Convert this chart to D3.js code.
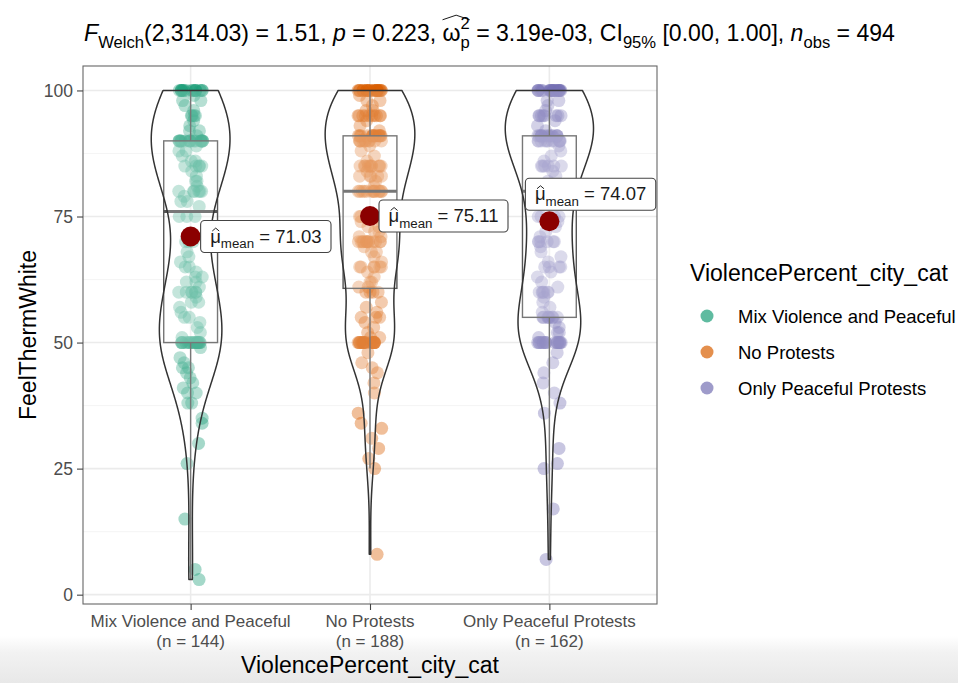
<!DOCTYPE html>
<html>
<head>
<meta charset="utf-8">
<script src="https://cdn.jsdelivr.net/npm/d3@7"></script>
<style>
  body { margin: 0; background: #fff; }
  text { font-family: "Liberation Sans", Arial, Helvetica, sans-serif; white-space: pre; }
</style>
</head>
<body>
<svg id="chart" width="958" height="683"></svg>
<script>
// ---- data -------------------------------------------------------------
const categories = ["Mix Violence and Peaceful", "No Protests", "Only Peaceful Protests"];
const groupSizes = [144, 188, 162];
const meanValues = [71.03, 75.11, 74.07];
const yTicks = [0, 25, 50, 75, 100];

// FeelThermWhite responses per group, as [value, count]
const mixViolence = [
  [3,1],[5,1],[15,1],[26,1],[30,1],[34,1],[35,1],[38,2],[40,2],[41,1],[42,1],[43,1],
  [44,1],[45,2],[46,1],[47,1],[49,1],[50,18],[51,1],[52,1],[53,1],[54,1],[55,2],[56,1],
  [57,1],[58,2],[59,1],[60,6],[61,1],[62,2],[63,2],[64,1],[65,2],[66,1],[67,1],[68,1],
  [70,3],[75,3],[77,1],[78,2],[79,1],[80,6],[81,1],[82,2],[83,1],[84,1],[85,5],[86,2],
  [87,1],[88,2],[89,1],[90,17],[91,1],[92,2],[93,1],[94,1],[95,4],[96,1],[97,1],[98,2],
  [99,1],[100,15]
];
const noProtests = [
  [8,1],[25,1],[27,1],[29,1],[31,1],[33,1],[34,1],[36,1],[40,1],[42,1],[44,1],[45,1],
  [46,1],[48,1],[50,18],[51,2],[52,1],[53,1],[54,1],[55,3],[56,1],[57,1],[58,1],[60,4],
  [61,2],[62,2],[63,1],[64,1],[65,6],[66,1],[67,1],[68,2],[69,1],[70,13],[71,2],[72,2],
  [73,2],[74,2],[75,3],[80,13],[81,1],[82,1],[83,5],[84,1],[85,10],[86,1],[87,1],[88,1],
  [89,1],[90,10],[91,15],[92,1],[93,1],[94,1],[95,10],[96,2],[97,1],[98,2],[99,1],[100,21]
];
const onlyPeaceful = [
  [7,1],[17,1],[25,1],[26,1],[29,1],[36,1],[38,1],[40,1],[42,1],[44,1],[46,1],[48,1],
  [50,18],[51,1],[52,2],[53,1],[54,1],[55,8],[56,1],[57,1],[58,1],[59,1],[60,6],[61,1],
  [62,1],[63,1],[64,1],[65,4],[66,1],[67,1],[68,1],[69,1],[70,6],[71,1],[72,1],[73,1],
  [74,1],[75,4],[78,1],[80,7],[81,1],[82,1],[83,1],[84,1],[85,6],[86,1],[87,1],[88,1],
  [89,1],[90,12],[91,13],[92,1],[93,1],[94,1],[95,8],[96,1],[97,1],[98,2],[100,21]
];
const groupCounts = [mixViolence, noProtests, onlyPeaceful];

// ---- styling ----------------------------------------------------------
const palette = ["#1B9E77", "#D95F02", "#7570B3"];
const FONT_TICK = 17, FONT_TITLE_AXIS = 23, FONT_LEGEND = 18.5;
const panel = { left: 83, right: 657, top: 66, bottom: 604 };

const svg = d3.select("#chart");

// light band along the lower edge
const defs = svg.append("defs");
const grad = defs.append("linearGradient").attr("id", "bottomFade")
  .attr("x1", 0).attr("y1", 0).attr("x2", 0).attr("y2", 1);
grad.append("stop").attr("offset", 0).attr("stop-color", "#ffffff");
grad.append("stop").attr("offset", 0.35).attr("stop-color", "#f2f2f2");
grad.append("stop").attr("offset", 1).attr("stop-color", "#e8e8e8");
svg.append("rect").attr("x", 0).attr("y", 636).attr("width", 958).attr("height", 47)
  .attr("fill", "url(#bottomFade)");

// ---- scales -----------------------------------------------------------
const groups = groupCounts.map(pairs => pairs.flatMap(([v, c]) => d3.range(c).map(() => v)));
const allValues = groups.flat();
const [vmin, vmax] = d3.extent(allValues);
const pad = (vmax - vmin) * 0.05;

const x = d3.scalePoint().domain(categories).range([panel.left, panel.right]).padding(0.6);
const y = d3.scaleLinear().domain([vmin - pad, vmax + pad]).range([panel.bottom, panel.top]);
const step = x.step();

// ---- grid -------------------------------------------------------------
const grid = svg.append("g");
const minorTicks = d3.range(12.5, 100, 25);
grid.selectAll(".minor").data(minorTicks).join("line")
  .attr("x1", panel.left).attr("x2", panel.right)
  .attr("y1", d => y(d)).attr("y2", d => y(d))
  .attr("stroke", "#f2f2f2").attr("stroke-width", 0.8);
grid.selectAll(".major").data(yTicks).join("line")
  .attr("x1", panel.left).attr("x2", panel.right)
  .attr("y1", d => y(d)).attr("y2", d => y(d))
  .attr("stroke", "#ebebeb").attr("stroke-width", 1.6);
grid.selectAll(".vmajor").data(categories).join("line")
  .attr("x1", d => x(d)).attr("x2", d => x(d))
  .attr("y1", panel.top).attr("y2", panel.bottom)
  .attr("stroke", "#ebebeb").attr("stroke-width", 1.6);

// ---- statistics -------------------------------------------------------
function bwNrd0(vals) {
  const s = d3.deviation(vals);
  const sorted = vals.slice().sort(d3.ascending);
  const iqr = d3.quantileSorted(sorted, 0.75) - d3.quantileSorted(sorted, 0.25);
  const lo = Math.min(s, iqr / 1.34);
  return 0.9 * lo * Math.pow(vals.length, -0.2);
}
function density(vals, bw, grid) {
  const n = vals.length, k = 1 / (n * bw * Math.sqrt(2 * Math.PI));
  return grid.map(t => {
    let s = 0;
    for (const v of vals) { const z = (t - v) / bw; s += Math.exp(-0.5 * z * z); }
    return s * k;
  });
}

const stats = groups.map((vals, i) => {
  const sorted = vals.slice().sort(d3.ascending);
  const q1 = d3.quantileSorted(sorted, 0.25);
  const med = d3.quantileSorted(sorted, 0.5);
  const q3 = d3.quantileSorted(sorted, 0.75);
  const iqr = q3 - q1;
  const lowW = d3.min(sorted.filter(v => v >= q1 - 1.5 * iqr));
  const highW = d3.max(sorted.filter(v => v <= q3 + 1.5 * iqr));
  const lo = sorted[0], hi = sorted[sorted.length - 1];
  const pts = d3.range(512).map(j => lo + (hi - lo) * j / 511);
  const dens = density(vals, bwNrd0(vals), pts);
  return { cat: categories[i], sorted, q1, med, q3, lowW, highW, pts, dens };
});
const maxDens = d3.max(stats, s => d3.max(s.dens));
const halfViolin = 0.25 * step;     // violin width 0.5, scaled by area
const halfBox = 0.15 * step;        // box width 0.3

// ---- jittered points --------------------------------------------------
const rng = d3.randomUniform.source(d3.randomLcg(0.4187))(-0.0667 * step, 0.0667 * step);
const pointLayer = svg.append("g");
groups.forEach((vals, i) => {
  pointLayer.selectAll(null).data(vals).join("circle")
    .attr("cx", () => x(categories[i]) + rng())
    .attr("cy", d => y(d))
    .attr("r", 6.5)
    .attr("fill", palette[i])
    .attr("fill-opacity", 0.4);
});

// ---- box plots --------------------------------------------------------
const boxLayer = svg.append("g");
stats.forEach(s => {
  const cx = x(s.cat);
  const g = boxLayer.append("g").attr("stroke", "#555").attr("fill", "none");
  g.append("line").attr("x1", cx).attr("x2", cx).attr("y1", y(s.q3)).attr("y2", y(s.highW)).attr("stroke-width", 1.4);
  g.append("line").attr("x1", cx).attr("x2", cx).attr("y1", y(s.q1)).attr("y2", y(s.lowW)).attr("stroke-width", 1.4);
  g.append("rect").attr("x", cx - halfBox).attr("width", 2 * halfBox)
    .attr("y", y(s.q3)).attr("height", y(s.q1) - y(s.q3))
    .attr("fill", "#ffffff").attr("fill-opacity", 0.2).attr("stroke-width", 1.4);
  g.append("line").attr("x1", cx - halfBox).attr("x2", cx + halfBox)
    .attr("y1", y(s.med)).attr("y2", y(s.med)).attr("stroke-width", 3);
});

// ---- violins ----------------------------------------------------------
const violinLayer = svg.append("g");
stats.forEach(s => {
  const cx = x(s.cat);
  const rows = s.pts.map((p, j) => ({ p, w: s.dens[j] / maxDens * halfViolin }));
  const area = d3.area().y(d => y(d.p)).x0(d => cx - d.w).x1(d => cx + d.w);
  violinLayer.append("path").attr("d", area(rows))
    .attr("fill", "#ffffff").attr("fill-opacity", 0.2)
    .attr("stroke", "#333").attr("stroke-width", 1.5).attr("stroke-linejoin", "round");
});

// ---- panel border and axes ---------------------------------------------
svg.append("rect").attr("x", panel.left).attr("y", panel.top)
  .attr("width", panel.right - panel.left).attr("height", panel.bottom - panel.top)
  .attr("fill", "none").attr("stroke", "#666").attr("stroke-width", 1.1);

const yAxis = svg.append("g").attr("transform", `translate(${panel.left},0)`)
  .call(d3.axisLeft(y).tickValues(yTicks).tickSize(6).tickPadding(4));
yAxis.select(".domain").remove();
yAxis.selectAll(".tick line").attr("stroke", "#444").attr("stroke-width", 1.1);
yAxis.selectAll(".tick text").attr("font-size", FONT_TICK + 0.5).attr("fill", "#4d4d4d")
  .attr("font-family", null);

const xAxis = svg.append("g").attr("transform", `translate(0,${panel.bottom})`)
  .call(d3.axisBottom(x).tickSize(6).tickFormat(""));
xAxis.select(".domain").remove();
xAxis.selectAll(".tick line").attr("stroke", "#444").attr("stroke-width", 1.1);
categories.forEach((c, i) => {
  svg.append("text").attr("x", x(c)).attr("y", 627).attr("text-anchor", "middle")
    .attr("font-size", FONT_TICK).attr("fill", "#4d4d4d").text(c);
  svg.append("text").attr("x", x(c)).attr("y", 646.5).attr("text-anchor", "middle")
    .attr("font-size", FONT_TICK).attr("fill", "#4d4d4d").text(`(n = ${groupSizes[i]})`);
});

svg.append("text").attr("x", (panel.left + panel.right) / 2).attr("y", 673)
  .attr("text-anchor", "middle").attr("font-size", FONT_TITLE_AXIS).attr("fill", "#000")
  .text("ViolencePercent_city_cat");
svg.append("text").attr("transform", `translate(36,${(panel.top + panel.bottom) / 2}) rotate(-90)`)
  .attr("text-anchor", "middle").attr("font-size", FONT_TITLE_AXIS).attr("fill", "#000")
  .text("FeelThermWhite");

// ---- rich text helper (sub/superscripts, hats) --------------------------
function richText(g, pieces, F, x0, baseline) {
  g.selectAll("*").remove();
  let cx = x0;
  let hatStart = null;
  for (const p of pieces) {
    if (p.stack) {
      const sup = g.append("text").attr("x", cx).attr("y", baseline - 0.5 * F)
        .attr("font-size", 0.72 * F).text(p.stack[0]);
      const sub = g.append("text").attr("x", cx).attr("y", baseline + 0.3 * F)
        .attr("font-size", 0.72 * F).text(p.stack[1]);
      cx += Math.max(sup.node().getComputedTextLength(), sub.node().getComputedTextLength());
      if (p.wideHat && hatStart != null) {
        const a = hatStart, b = cx, top = baseline - 1.12 * F;
        g.append("path").attr("d", `M${a},${top + 0.2 * F}L${(a + b) / 2},${top}L${b},${top + 0.2 * F}`)
          .attr("fill", "none").attr("stroke", "#000").attr("stroke-width", 0.9);
      }
      continue;
    }
    const scale = p.sub ? 0.72 : 1;
    const t = g.append("text").attr("x", cx)
      .attr("y", baseline + (p.sub ? 0.3 * F : 0))
      .attr("font-size", F * scale)
      .attr("font-style", p.italic ? "italic" : null)
      .text(p.t);
    const w = t.node().getComputedTextLength();
    if (p.hat) {
      const top = baseline - 0.78 * F, a = cx + w * 0.2, b = cx + w * 0.85;
      g.append("path").attr("d", `M${a},${top + 0.16 * F}L${(a + b) / 2},${top}L${b},${top + 0.16 * F}`)
        .attr("fill", "none").attr("stroke", "#222").attr("stroke-width", 1);
    }
    if (p.hatStart) hatStart = cx;
    cx += w;
  }
  return cx - x0;
}

// ---- subtitle with the test statistics ---------------------------------
const titlePieces = [
  { t: "F", italic: true }, { t: "Welch", sub: true },
  { t: "(2,314.03) = 1.51, " }, { t: "p", italic: true }, { t: " = 0.223, " },
  { t: "ω", hatStart: true }, { stack: ["2", "p"], wideHat: true },
  { t: " = 3.19e-03, CI" }, { t: "95%", sub: true }, { t: " [0.00, 1.00], " },
  { t: "n", italic: true }, { t: "obs", sub: true }, { t: " = 494" }
];
const titleG = svg.append("g").attr("fill", "#000");
// measure once, then size the line to span the plot's header
const w0 = richText(titleG, titlePieces, 20, 0, 41);
const titleSize = 20 * 811 / w0;
const w1 = richText(titleG, titlePieces, titleSize, 0, 41);
richText(titleG, titlePieces, titleSize, 489.5 - w1 / 2, 41);

// ---- mean markers and labels -------------------------------------------
const meanLayer = svg.append("g");
const labelNudge = [{ dx: 10, dy: 0 }, { dx: 9, dy: 0 }, { dx: -24, dy: -27 }];
meanValues.forEach((m, i) => {
  const cx = x(categories[i]), cy = y(m);
  meanLayer.append("circle").attr("cx", cx).attr("cy", cy).attr("r", 10).attr("fill", "#8B0000");
  const g = meanLayer.append("g");
  const F = 18.5;
  const rect = g.append("rect");
  const tg = g.append("g").attr("fill", "#1a1a1a");
  const pieces = [{ t: "μ", hat: true }, { t: "mean", sub: true }, { t: ` = ${m.toFixed(2)}` }];
  const w = richText(tg, pieces, F, 0, 0);
  const padX = 9.5, h = 32;
  const left = cx + labelNudge[i].dx, midY = cy + labelNudge[i].dy;
  richText(tg, pieces, F, left + padX, midY + 6);
  rect.attr("x", left).attr("y", midY - h / 2).attr("width", w + 2 * padX).attr("height", h)
    .attr("rx", 4).attr("fill", "#fff").attr("stroke", "#444").attr("stroke-width", 1.1);
});

// ---- legend -----------------------------------------------------------
const legend = svg.append("g");
legend.append("text").attr("x", 690).attr("y", 281).attr("font-size", FONT_TITLE_AXIS)
  .attr("fill", "#000").text("ViolencePercent_city_cat");
categories.forEach((c, i) => {
  const ly = 316 + i * 36;
  legend.append("circle").attr("cx", 707).attr("cy", ly).attr("r", 6.5)
    .attr("fill", palette[i]).attr("fill-opacity", 0.7);
  legend.append("text").attr("x", 738).attr("y", ly + 6.5).attr("font-size", FONT_LEGEND)
    .attr("fill", "#000").text(c);
});
</script>
</body>
</html>
